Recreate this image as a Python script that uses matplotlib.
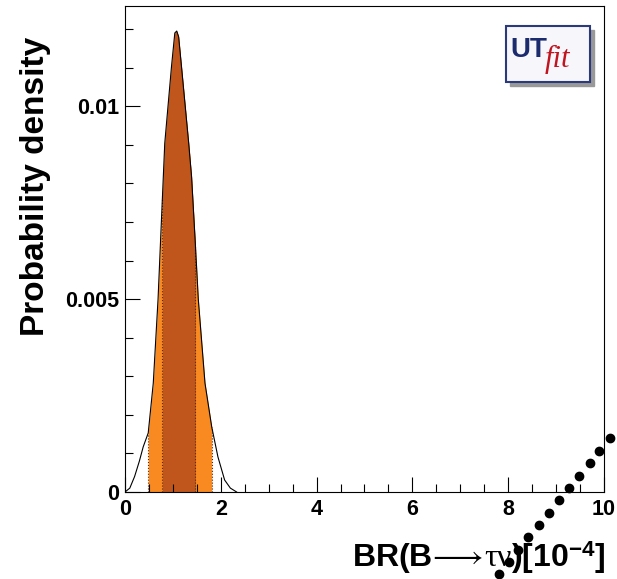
"""
UTfit posterior for BR(B -> tau nu)
"""

import matplotlib.pyplot as plt
import numpy as np
from matplotlib.patches import Rectangle
from matplotlib.ticker import MultipleLocator

plt.rcParams['font.family'] = ['Liberation Sans', 'DejaVu Sans']
plt.rcParams['mathtext.fontset'] = 'custom'
plt.rcParams['mathtext.rm'] = 'Liberation Sans:bold'
plt.rcParams['mathtext.bf'] = 'Liberation Sans:bold'
plt.rcParams['mathtext.it'] = 'Liberation Serif'

# Probability density curve
br = [0, 0.1, 0.2, 0.3, 0.38, 0.485, 0.59, 0.69, 0.78, 0.83, 0.97, 1.04, 1.08,
      1.12, 1.18, 1.33, 1.39, 1.47, 1.53, 1.67, 1.81, 1.94, 2.08, 2.2, 2.33]
density = [0, 0.0001, 0.0004, 0.0008, 0.00117, 0.00153, 0.00282, 0.005, 0.0076,
           0.00904, 0.01102, 0.0119, 0.01195, 0.0118, 0.01102, 0.00904, 0.00817,
           0.0064, 0.005, 0.00282, 0.00169, 0.00091, 0.00031, 0.0001, 0]

# 68% and 95% intervals
range68 = (0.78, 1.47)
range95 = (0.485, 1.81)

# stray dotted marks in the lower right corner
dots_x = [7.81, 8.01, 8.21, 8.42, 8.65, 8.85, 9.06, 9.27, 9.48, 9.70, 9.90, 10.12]
dots_y = [-0.00212, -0.00181, -0.00150, -0.00117, -0.00086, -0.00054,
          -0.00022, 0.0001, 0.00041, 0.00074, 0.00106, 0.00139]

dark = '#c0561b'
orange = '#f98a22'

br = np.array(br)
density = np.array(density)

fig = plt.figure(figsize=(6.17, 5.79), dpi=100)
ax = fig.add_axes([0.2026, 0.1503, 0.7763, 0.8394])

m95 = (br >= range95[0]) & (br <= range95[1])
m68 = (br >= range68[0]) & (br <= range68[1])
ax.fill_between(br[m95], 0, density[m95], color=orange, lw=0)
ax.fill_between(br[m68], 0, density[m68], color=dark, lw=0)
for xb in list(range95) + list(range68):
    yb = density[br == xb][0]
    ax.plot([xb, xb], [0, yb], ls=':', color='#5a2a0a', lw=0.8)
ax.plot(br, density, color='black', lw=0.8)

ax.plot(dots_x, dots_y, 'o', color='black', ms=6, clip_on=False)

ax.set_xlim(0, 10)
ax.set_ylim(0, 0.0126)
ax.set_xticks([0, 2, 4, 6, 8, 10])
ax.set_yticks([0, 0.005, 0.01])
ax.set_yticklabels(['0', '0.005', '0.01'])
ax.xaxis.set_minor_locator(MultipleLocator(0.5))
ax.yaxis.set_minor_locator(MultipleLocator(0.001))
ax.tick_params(which='both', direction='in', top=False, right=False)
ax.tick_params(which='major', length=11, width=0.8)
ax.tick_params(which='minor', length=6, width=0.8)
ax.tick_params(axis='y', pad=4)
ax.tick_params(axis='x', pad=5)
for lab in ax.get_xticklabels() + ax.get_yticklabels():
    lab.set_fontsize(15.5)
    lab.set_fontweight('bold')
for sp in ax.spines.values():
    sp.set_linewidth(0.8)

fig.text(0.057, 0.678, 'Probability density', rotation=90, fontsize=24,
         fontweight='bold', ha='center', va='center')
fig.text(0.982, 0.02, r'BR(B$\!\longrightarrow\!\tau\nu$)[10$^{-4}$]', fontsize=23,
         fontweight='bold', ha='right', va='baseline')

# UTfit logo
fig.patches.append(Rectangle((510 / 617, 1 - 86 / 579), 84 / 617, 56 / 579,
                             transform=fig.transFigure, color='#999999', zorder=5))
fig.patches.append(Rectangle((506 / 617, 1 - 82 / 579), 84 / 617, 56 / 579,
                             transform=fig.transFigure, facecolor='#f6f6fb',
                             edgecolor='#2a3a7a', lw=1.5, zorder=6))
fig.text(510 / 617, 1 - 57 / 579, 'UT', fontsize=20, fontweight='bold',
         color='#1c2a6e', ha='left', va='baseline', zorder=7)
fig.text(545 / 617, 1 - 67 / 579, 'fit', fontsize=22, style='italic',
         family='Liberation Serif', color='#c0141e', ha='left', va='baseline', zorder=7)

plt.savefig('out.png', dpi=100)
